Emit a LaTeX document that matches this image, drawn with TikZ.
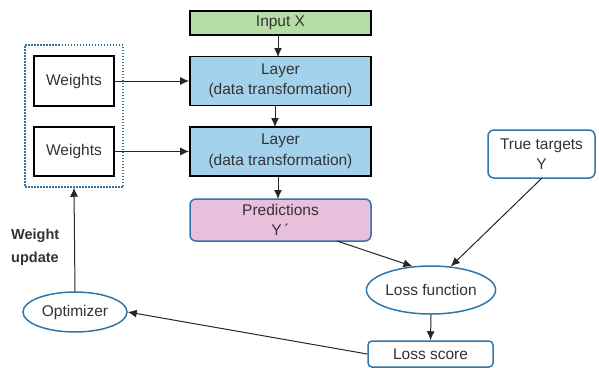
\documentclass[tikz,border=0pt]{standalone}
\usepackage{fontspec}
\setmainfont{Liberation Sans}
\usetikzlibrary{shapes.geometric,arrows.meta}
\definecolor{bgreen}{HTML}{B5DDA4}
\definecolor{bblue}{HTML}{A4D2EC}
\definecolor{bpink}{HTML}{E8BFDC}
\definecolor{bord}{HTML}{3176A8}
\definecolor{txt}{HTML}{333333}
\begin{document}
\begin{tikzpicture}[x=1pt,y=-1pt,
  every node/.style={text=txt,font=\fontsize{15.5}{20.5}\selectfont,inner sep=0pt,align=center},
  blackbox/.style={draw=black,line width=1.8pt,rectangle},
  bluebox/.style={draw=bord,line width=1.5pt,rectangle,rounded corners=6pt},
  blueell/.style={draw=bord,line width=1.5pt,ellipse},
  arr/.style={-{Latex[length=9pt,width=8pt]},line width=1pt,draw=black!85}
]
\useasboundingbox (0,0) rectangle (599,367);
\node[blackbox,fill=bgreen,minimum width=181pt,minimum height=24pt] (inp) at (280.5,23) {Input X};
\node[blackbox,fill=bblue,minimum width=181pt,minimum height=49pt] (l1) at (280.5,81) {Layer\\(data transformation)};
\node[blackbox,fill=bblue,minimum width=181pt,minimum height=49pt] (l2) at (280.5,151.5) {Layer\\(data transformation)};
\node[bluebox,fill=bpink,minimum width=181pt,minimum height=42pt] (pred) at (280.5,220) {Predictions\\Y\,´};
\node[blackbox,fill=white,minimum width=80pt,minimum height=50pt] (w1) at (74,81) {Weights};
\node[blackbox,fill=white,minimum width=80pt,minimum height=49pt] (w2) at (74,151.5) {Weights};
\node[draw=bord,line width=1.5pt,dash pattern=on 1.5pt off 1.5pt,minimum width=98pt,minimum height=142pt] (wbox) at (74,116) {};
\node[bluebox,fill=white,minimum width=107pt,minimum height=48pt] (tt) at (541.5,154) {True targets\\Y};
\node[blueell,fill=white,minimum width=122pt,minimum height=48pt] (lf) at (431,290) {Loss function};
\node[bluebox,fill=white,rounded corners=4pt,minimum width=125pt,minimum height=26pt] (ls) at (430.5,354) {Loss score};
\node[blueell,fill=white,minimum width=104pt,minimum height=40pt] (opt) at (75,312) {Optimizer};
\node[font=\bfseries\fontsize{14.5}{23}\selectfont,align=left,anchor=west] (wu) at (11,247) {Weight\\update};
\coordinate (inpB) at (278,35);
\coordinate (l1T) at (278,57);
\coordinate (l1B) at (275,105);
\coordinate (l2T) at (275,127);
\coordinate (l2B) at (278,176);
\coordinate (predT) at (278,199);
\draw[arr] (inpB) -- (l1T);
\draw[arr] (l1B) -- (l2T);
\draw[arr] (l2B) -- (predT);
\draw[arr] (w1.east) -- (l1.west);
\draw[arr] (w2.east) -- (l2.west);
\coordinate (predS) at (337,241);
\coordinate (ttS) at (542,178);
\draw[arr] (predS) -- (lf.128);
\draw[arr] (ttS) -- (lf.50);
\draw[arr] (lf.south) -- (ls.north);
\draw[arr] (ls.west) -- (opt.east);
\draw[arr] (opt.north) -- (wbox.south);
\end{tikzpicture}
\end{document}
